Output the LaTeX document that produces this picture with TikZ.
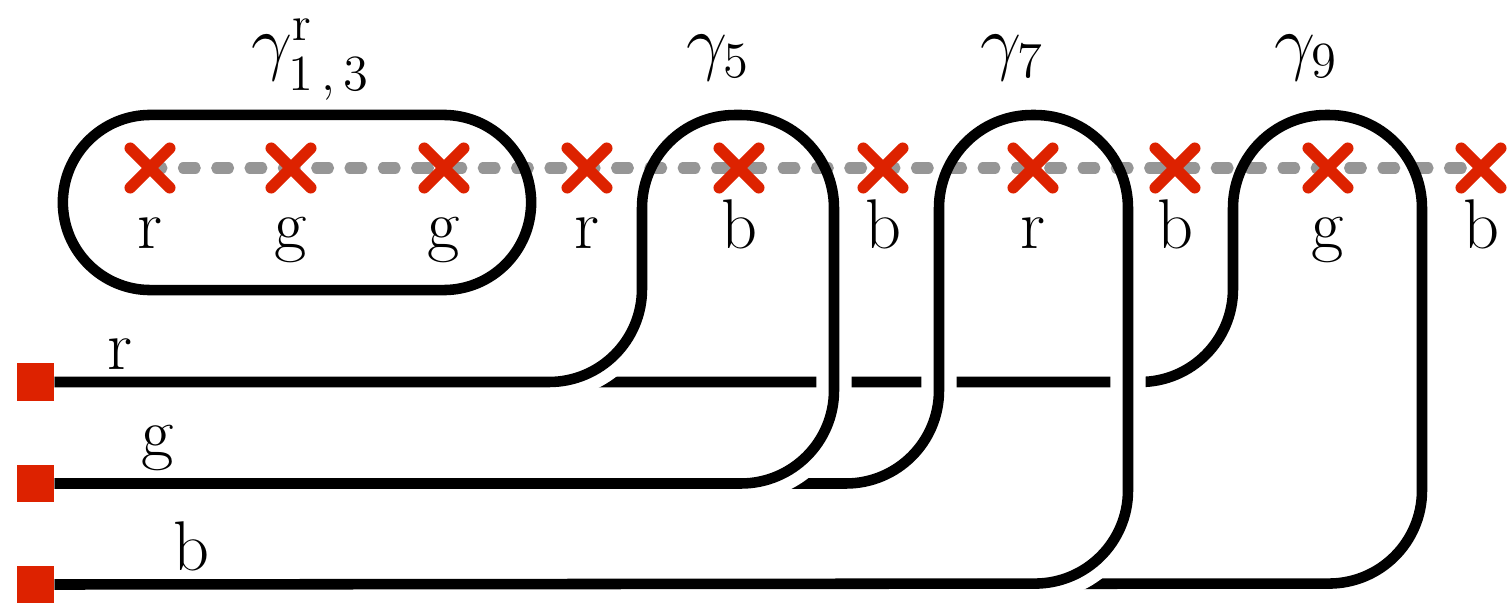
\documentclass[tikz,border=0pt]{standalone}
\usepackage{amsmath}
\usepackage{tikz}
\usetikzlibrary{shapes.misc,backgrounds}

\definecolor{puncred}{RGB}{221,34,0}
\definecolor{cutgray}{RGB}{150,150,150}

% white halo below the punctures, then the black strand
\newcommand{\overstrand}[1]{%
  \begin{scope}
    \clip (0,265) rectangle (1508,603);
    \draw[halo] #1;
  \end{scope}
  \draw[strand] #1;
}

\begin{document}
\begin{tikzpicture}[x=0.01cm, y=-0.01cm, font=\fontsize{20}{24}\selectfont,
                    strand/.style={line width=3pt, rounded corners=0.93cm},
                    halo/.style={strand, white, line width=0.35cm},
                    punct node/.style={cross out, draw=puncred, line width=0.115cm, line cap=round,
                                       minimum size=0.28cm, inner sep=0pt},
                    base node/.style={rectangle, fill=puncred, minimum size=0.37cm, inner sep=0pt}]

  \useasboundingbox (0,0) rectangle (1508,603);

  % punctures and their colours
  \foreach \x/\c [count=\i] in {150/r,291/g,444/g,587/r,739/b,883/b,1033/r,1175/b,1328/g,1481/b} {
    \node[punct node] (p\i) at (\x,168) {};
    \node[anchor=base] (c\i) at (\x,248) {\c};
  }
  \begin{scope}[on background layer]
    \draw[cutgray, line width=0.11cm, line cap=round, dash pattern=on 0.12cm off 0.213cm]
      (p1.center) -- (p10.center);
  \end{scope}

  % base points
  \node[base node] (sr) at (35.5,382) {};
  \node[base node] (sg) at (35.5,483.5) {};
  \node[base node] (sb) at (35.5,584.5) {};

  % gamma_{1,3}
  \node[draw, line width=3pt, rounded corners=0.875cm, minimum width=4.68cm,
        minimum height=1.75cm, inner sep=0pt] (box) at (297,202.5) {};
  \node[anchor=base] (g13) at (311,67)
    {$\gamma^{\text{r}}_{\raisebox{-1.6pt}{$\scriptstyle\mathrm{1\,,\,3}$}}$};

  % gamma_9, gamma_7, gamma_5 (bottom to top)
  \overstrand{(sr.east) -- (1233,382) -- (1233,115) -- (1422,115) -- (1422,583.5) -- (sb.east)}
  \overstrand{(sb.east) -- (1128,583.5) -- (1128,115) -- (939,115) -- (939,483.5) -- (sg.east)}
  \overstrand{(sr.east) -- (642,382) -- (642,115) -- (834,115) -- (834,483.5) -- (sg.east)}

  \node[anchor=base] (g5) at (718,67) {$\gamma_5$};
  \node[anchor=base] (g7) at (1012,67) {$\gamma_7$};
  \node[anchor=base] (g9) at (1306,67) {$\gamma_9$};

  \node[anchor=south, inner sep=0pt] (lr) at (120,370.5) {r};
  \node[anchor=south, inner sep=0pt] (lg) at (158,472) {g};
  \node[anchor=south, inner sep=0pt] (lb) at (191,572) {b};
\end{tikzpicture}
\end{document}
